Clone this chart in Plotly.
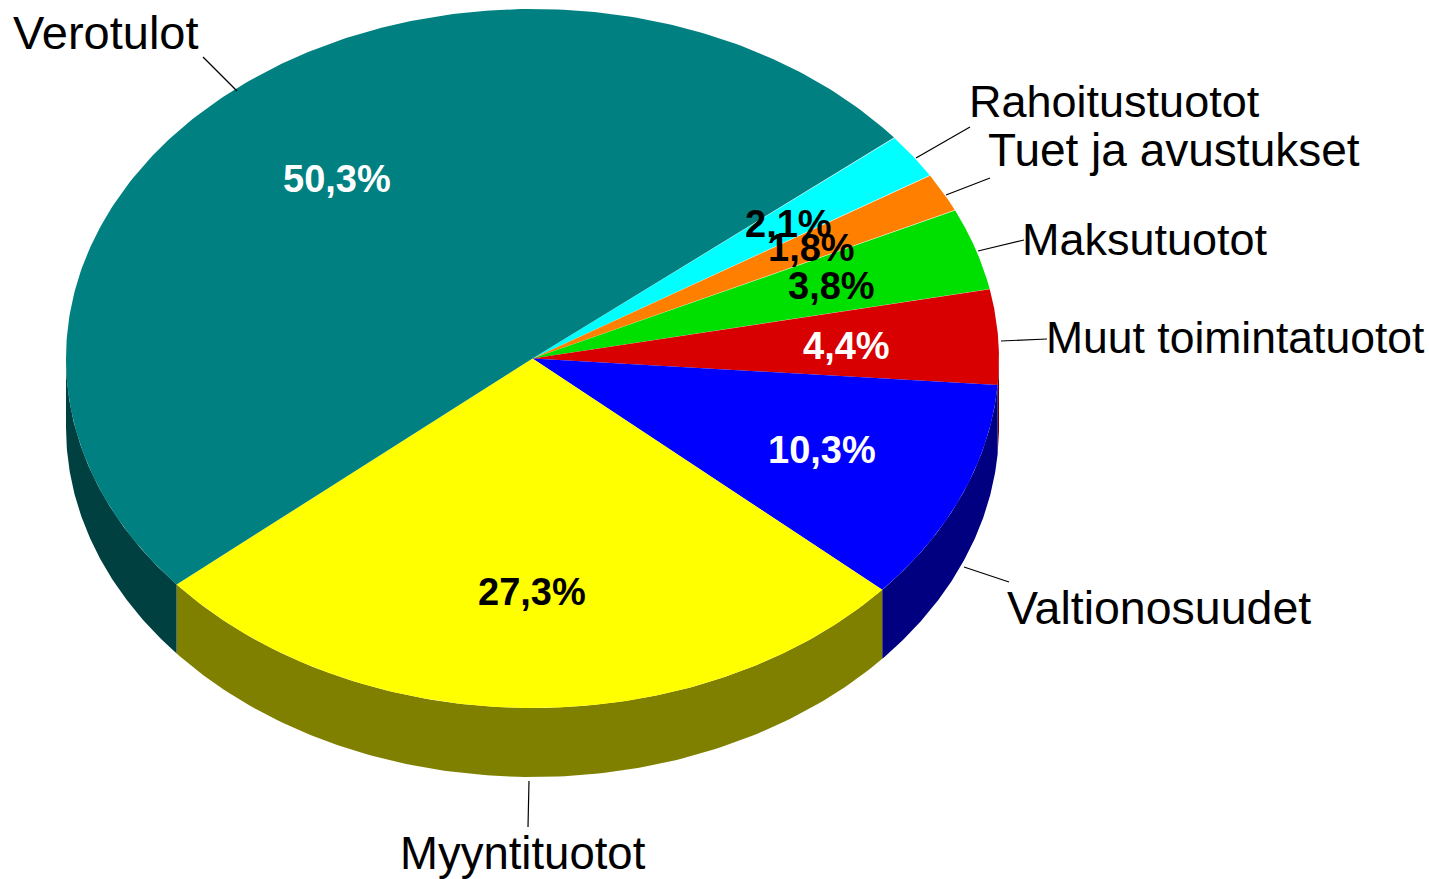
import numpy as np
import plotly.graph_objects as go

categories = ["Rahoitustuotot", "Tuet ja avustukset", "Maksutuotot", "Muut toimintatuotot",
              "Valtionosuudet", "Myyntituotot", "Verotulot"]
values = [2.1, 1.8, 3.8, 4.4, 10.3, 27.3, 50.3]
value_labels = ["2,1%", "1,8%", "3,8%", "4,4%", "10,3%", "27,3%", "50,3%"]
top_colors = ["#00FFFF", "#FF8000", "#00E000", "#D80000", "#0000FF", "#FFFF00", "#008080"]
side_colors = ["#008080", "#804000", "#007000", "#6C0000", "#000080", "#808000", "#004040"]
text_colors = ["#000000", "#000000", "#000000", "#FFFFFF", "#FFFFFF", "#000000", "#FFFFFF"]

W, H = 1429, 879
CX, CY, RX, RY, DEPTH = 532.5, 358.5, 466.5, 349.5, 69
START = 50.8

# centre of each value label and left/middle of each category label, in page pixels
value_pos = [(788, 224), (811, 248), (831, 286), (846, 346), (822, 450), (532, 592), (337, 179)]
cat_pos = [(967, 101), (986, 150), (1020, 239), (1044, 337), (1005, 608), (398, 853), (11, 32)]
cat_sizes = [45, 46, 45, 44.5, 46.5, 45.5, 47]
leaders = [((916, 158), (970, 127)), ((946, 195), (990, 178)), ((978, 251), (1024, 240)),
           ((1001, 341), (1047, 339)), ((964, 567), (1009, 582)), ((529, 781), (528, 827)),
           ((237, 91), (203, 57))]


def ex(a):
    return CX + RX * np.sin(np.radians(a))


def ey(a):
    return CY - RY * np.cos(np.radians(a))


edges = START + np.concatenate([[0], np.cumsum(values)]) * 3.6
edges = np.minimum(edges, START + 360)

fig = go.Figure()

# side walls: the part of each slice on the front half of the ellipse
for i, c in enumerate(categories):
    a0, a1 = max(edges[i], 90), min(edges[i + 1], 270)
    if a1 <= a0:
        continue
    t = np.linspace(a0, a1, 120)
    xs = np.concatenate([ex(t), ex(t)[::-1]])
    ys = np.concatenate([ey(t), ey(t)[::-1] + DEPTH])
    fig.add_trace(go.Scatter(x=xs, y=ys, mode="lines", fill="toself", fillcolor=side_colors[i],
                             line=dict(width=0), hoverinfo="skip", showlegend=False))

# top faces
for i, c in enumerate(categories):
    t = np.linspace(edges[i], edges[i + 1], 240)
    xs = np.concatenate([[CX], ex(t), [CX]])
    ys = np.concatenate([[CY], ey(t), [CY]])
    fig.add_trace(go.Scatter(x=xs, y=ys, mode="lines", fill="toself", fillcolor=top_colors[i],
                             line=dict(width=0), name=c, hoverinfo="name", showlegend=False))

for (p, q) in leaders:
    fig.add_shape(type="line", x0=p[0], y0=p[1], x1=q[0], y1=q[1], xref="x", yref="y",
                  line=dict(color="#000000", width=1.2), layer="above")

for i, c in enumerate(categories):
    fig.add_annotation(x=cat_pos[i][0], y=cat_pos[i][1], text=c, showarrow=False, xanchor="left",
                       yanchor="middle", xref="x", yref="y",
                       font=dict(family="Liberation Sans", size=cat_sizes[i], color="#000000"))
for i, c in enumerate(value_labels):
    fig.add_annotation(x=value_pos[i][0], y=value_pos[i][1], text="<b>%s</b>" % c, showarrow=False,
                       xanchor="center", yanchor="middle", xref="x", yref="y",
                       font=dict(family="Liberation Sans", size=38, color=text_colors[i]))

fig.update_layout(
    width=W, height=H, margin=dict(l=0, r=0, t=0, b=0), paper_bgcolor="#FFFFFF", plot_bgcolor="#FFFFFF",
    xaxis=dict(range=[0, W], visible=False, fixedrange=True),
    yaxis=dict(range=[H, 0], visible=False, fixedrange=True),
    showlegend=False,
)
fig.write_html("out.html", config={"displayModeBar": False},
               post_script="document.body.style.margin='0';document.body.style.overflow='hidden';")
